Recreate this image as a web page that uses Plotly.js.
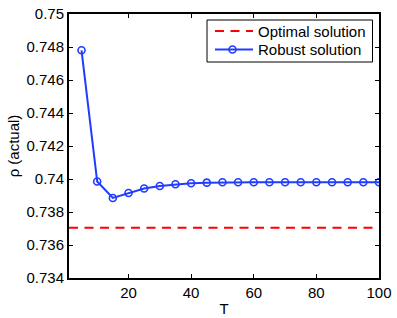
<!DOCTYPE html>
<html><head><meta charset="utf-8">
<script src="https://cdn.plot.ly/plotly-3.0.1.min.js"></script>
<style>body{margin:0;background:#fff}#c{width:397px;height:318px}</style>
</head><body><div id="c"></div>
<script>
const T = [5,10,15,20,25,30,35,40,45,50,55,60,65,70,75,80,85,90,95,100];
const robust = [0.7478,0.73985,0.73885,0.73915,0.73942,0.73958,0.73968,0.73974,0.73978,0.7398,0.7398,0.7398,0.7398,0.7398,0.7398,0.7398,0.7398,0.7398,0.7398,0.7398];
const optimalT = [1,100];
const optimalVal = [0.73705,0.73705];
const xTicks = [20,40,60,80,100];
const yTicks = [0.734,0.736,0.738,0.74,0.742,0.744,0.746,0.748,0.75];
const seriesNames = ['Optimal solution','Robust solution'];

const RED = '#ff0000', BLUE = '#1f3cff';
const font = {family:'Liberation Sans, Arial, sans-serif', size:15, color:'#000'};
const M = {l:69, r:18, t:14, b:40}, W = 397, H = 318;
const pw = W - M.l - M.r, ph = H - M.t - M.b;
const px = v => (v - M.l) / pw;
const py = v => (H - M.b - v) / ph;

const traces = [
  {x:optimalT, y:optimalVal, mode:'lines', name:seriesNames[0],
   line:{color:RED, width:2, dash:'9px,6.5px'}},
  {x:T, y:robust, mode:'lines+markers', name:seriesNames[1],
   line:{color:BLUE, width:2},
   marker:{symbol:'circle-open', size:7, color:BLUE, line:{width:1.6, color:BLUE}}}
];
const axisCommon = {showline:true, linecolor:'#000', linewidth:2, mirror:'ticks',
  ticks:'inside', ticklen:4, tickwidth:1, tickcolor:'#000', showgrid:false, zeroline:false,
  tickfont:font};

// manual legend (decoration)
const shapes = [
  {type:'rect', xref:'paper', yref:'paper', x0:px(207), x1:px(372.5), y0:py(20), y1:py(62),
   line:{color:'#000', width:1}, fillcolor:'#fff', layer:'above'},
  {type:'line', xref:'paper', yref:'paper', x0:px(215), x1:px(253), y0:py(31), y1:py(31),
   line:{color:RED, width:2, dash:'9px,6.5px'}, layer:'above'},
  {type:'line', xref:'paper', yref:'paper', x0:px(215), x1:px(253), y0:py(49.5), y1:py(49.5),
   line:{color:BLUE, width:2}, layer:'above'},
  {type:'circle', xref:'paper', yref:'paper', x0:px(229), x1:px(236), y0:py(46), y1:py(53),
   line:{color:BLUE, width:1.6}, fillcolor:'rgba(0,0,0,0)', layer:'above'}
];
const annotations = [
  {xref:'paper', yref:'paper', x:px(256), y:py(31), xanchor:'left', yanchor:'middle',
   text:seriesNames[0], showarrow:false, font:font},
  {xref:'paper', yref:'paper', x:px(256), y:py(49.5), xanchor:'left', yanchor:'middle',
   text:seriesNames[1], showarrow:false, font:font}
];

const layout = {
  width:W, height:H, margin:M,
  paper_bgcolor:'#fff', plot_bgcolor:'#fff',
  font:font, showlegend:false,
  shapes:shapes, annotations:annotations,
  xaxis:Object.assign({}, axisCommon, {range:[1,100], tickvals:xTicks,
    title:{text:'T', font:font, standoff:3}}),
  yaxis:Object.assign({}, axisCommon, {range:[0.734,0.75], tickvals:yTicks,
    ticktext:yTicks.map(v=>String(v)),
    title:{text:'ρ (actual)', font:font, standoff:3}})
};
Plotly.newPlot('c', traces, layout, {displayModeBar:false, staticPlot:true});
</script></body></html>
